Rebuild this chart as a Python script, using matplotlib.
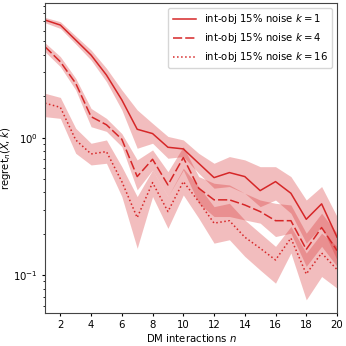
import numpy as np
import matplotlib
matplotlib.use("Agg")
import matplotlib.pyplot as plt

n = np.arange(1, 21)

# mean regret and band (lower/upper) per k
k1_mean = [7.16, 6.58, 5.12, 3.98, 2.85, 1.88, 1.15, 1.07, 0.851, 0.828,
           0.651, 0.512, 0.557, 0.521, 0.412, 0.479, 0.394, 0.255, 0.330, 0.189]
k1_low = [6.84, 6.22, 4.79, 3.66, 2.55, 1.59, 0.837, 0.910, 0.708, 0.728,
          0.551, 0.429, 0.441, 0.394, 0.315, 0.352, 0.282, 0.171, 0.226, 0.129]
k1_high = [7.48, 6.96, 5.48, 4.33, 3.19, 2.22, 1.59, 1.27, 1.02, 0.962,
           0.769, 0.651, 0.728, 0.689, 0.615, 0.615, 0.521, 0.352, 0.441, 0.267]

k4_mean = [4.58, 3.56, 2.48, 1.42, 1.24, 0.973, 0.521, 0.696, 0.453, 0.716,
           0.429, 0.353, 0.353, 0.324, 0.290, 0.249, 0.249, 0.154, 0.222, 0.151]
k4_low = [4.21, 3.28, 2.22, 1.20, 1.11, 0.860, 0.417, 0.582, 0.373, 0.582,
          0.333, 0.267, 0.267, 0.252, 0.239, 0.191, 0.202, 0.116, 0.162, 0.116]
k4_high = [4.90, 3.88, 2.70, 1.63, 1.38, 1.07, 0.689, 0.814, 0.566, 0.860,
           0.521, 0.466, 0.453, 0.394, 0.352, 0.333, 0.324, 0.202, 0.282, 0.202]

k16_mean = [1.78, 1.66, 0.962, 0.761, 0.791, 0.479, 0.262, 0.471, 0.290, 0.479,
            0.343, 0.239, 0.249, 0.189, 0.157, 0.129, 0.186, 0.102, 0.145, 0.110]
k16_low = [1.42, 1.38, 0.769, 0.633, 0.651, 0.373, 0.157, 0.373, 0.219, 0.383,
           0.260, 0.171, 0.181, 0.137, 0.109, 0.0875, 0.145, 0.0662, 0.0978, 0.0805]
k16_high = [2.10, 1.96, 1.17, 0.910, 0.962, 0.615, 0.373, 0.582, 0.373, 0.599,
            0.441, 0.315, 0.333, 0.252, 0.202, 0.162, 0.226, 0.145, 0.202, 0.162]

labels = [r'int-obj 15% noise $k = 1$', r'int-obj 15% noise $k = 4$',
          r'int-obj 15% noise $k = 16$']

color = '#d62728'
plt.rcParams['font.size'] = 7.3
plt.rcParams['xtick.major.size'] = 2.5
plt.rcParams['ytick.major.size'] = 2.5
plt.rcParams['ytick.minor.size'] = 1.5
plt.rcParams['xtick.major.pad'] = 2.5
plt.rcParams['ytick.major.pad'] = 2.5

fig = plt.figure(figsize=(3.46, 3.46), dpi=100)
ax = fig.add_axes([0.130, 0.095, 0.844, 0.896])

series = [(k1_mean, k1_low, k1_high, '-'),
          (k4_mean, k4_low, k4_high, (0, (6, 2))),
          (k16_mean, k16_low, k16_high, ':')]
for (m, lo, hi, ls), lab in zip(series, labels):
    ax.fill_between(n, lo, hi, color=color, alpha=0.3, linewidth=0)
    ax.plot(n, m, color=color, linestyle=ls, linewidth=1.1, label=lab)

ax.set_yscale('log')
ax.set_xlim(1, 20)
ax.set_ylim(0.053, 9.5)
ax.set_xticks(range(2, 21, 2))
ax.set_xlabel(r'DM interactions $n$', labelpad=1.5)
ax.set_ylabel(r'regret$_n(X, k)$')
ax.yaxis.set_label_coords(-0.108, 0.5)
ax.legend(loc='upper right', handlelength=2.3)
for s in ax.spines.values():
    s.set_color('#444444')

fig.savefig('out.png', dpi=100)
